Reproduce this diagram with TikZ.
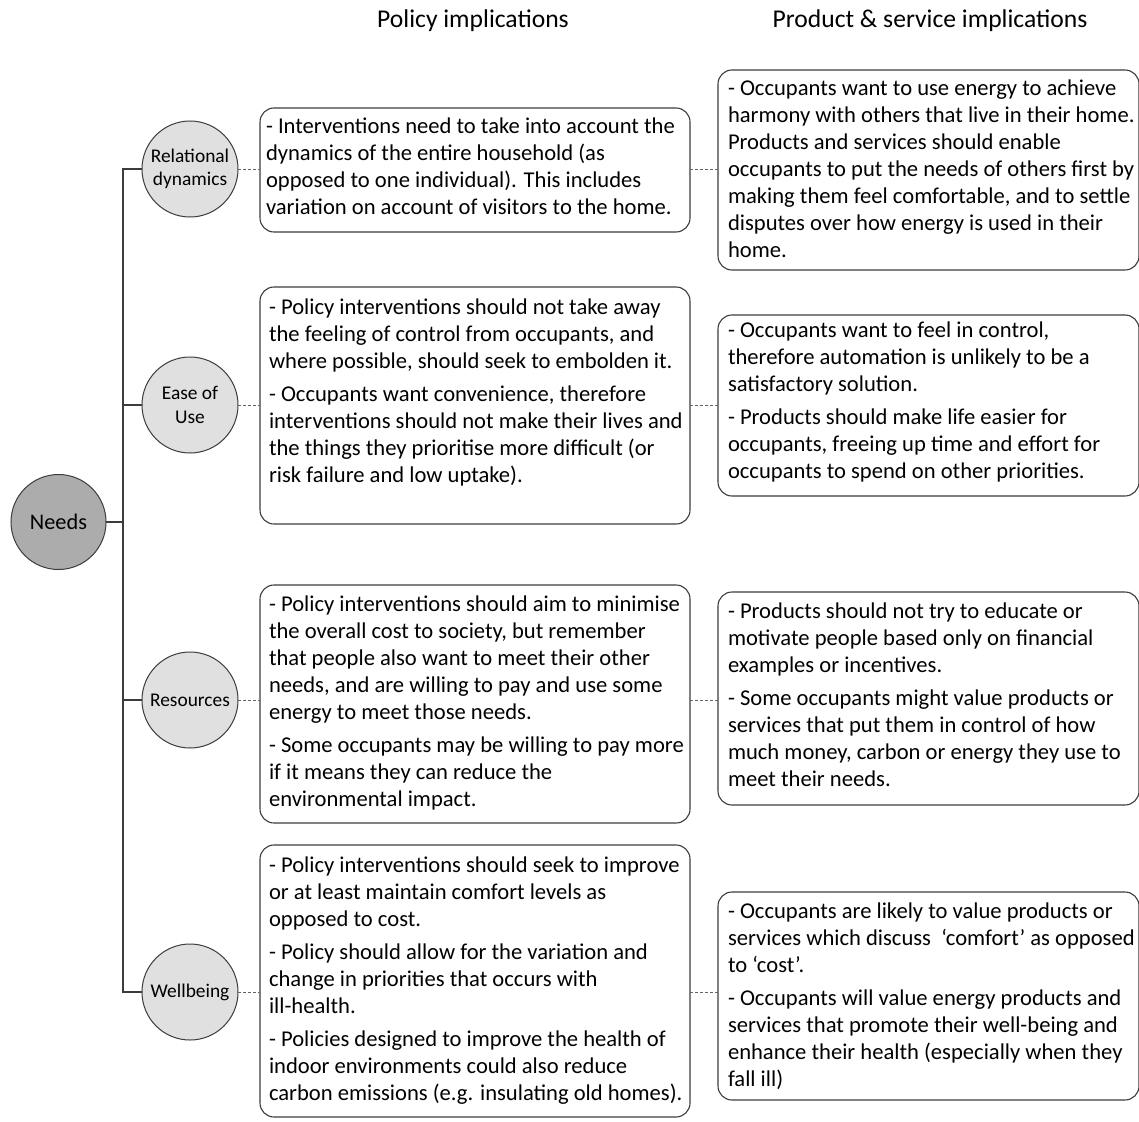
\documentclass[tikz,border=0pt]{standalone}
\usepackage{fontspec}
\setmainfont{Carlito}
\definecolor{linegray}{RGB}{60,60,60}
\definecolor{dotgray}{RGB}{100,100,100}
\definecolor{rootfill}{RGB}{172,172,172}
\definecolor{leaffill}{RGB}{224,224,224}
\begin{document}
\begin{tikzpicture}[x=1pt,y=-1pt,
  every node/.style={inner sep=0pt, outer sep=0pt},
  rootnode/.style={circle, draw=linegray, line width=1pt, fill=rootfill, minimum size=95pt,
    font=\fontsize{22.3}{24}\selectfont},
  leafnode/.style={circle, draw=linegray, line width=1pt, fill=leaffill, minimum size=96pt,
    align=center, font=\fontsize{19.4}{23.5}\selectfont},
  boxnode/.style={draw=linegray, line width=1.1pt, rounded corners=14pt, anchor=north west},
  boxtext/.style={anchor=north west, align=left, font=\fontsize{22.6}{27}\selectfont},
  header/.style={font=\fontsize{25.6}{27}\selectfont},
  tree/.style={draw=linegray, line width=1.1pt},
  dotline/.style={draw=dotgray, line width=0.9pt, dash pattern=on 3pt off 2pt}
]
\useasboundingbox (0,0) rectangle (1139,1121);

% column headings
\node[header] (hpol) at (473,21) {Policy implications};
\node[header] (hprod) at (930,21) {Product \& service implications};

% root and the four need categories
\node[rootnode] (needs) at (58.5,522) {Needs};
\node[leafnode] (rel)  at (190,169) {Relational\\dynamics};
\node[leafnode] (ease) at (190,405) {Ease of\\Use};
\node[leafnode] (res)  at (190,700) {Resources};
\node[leafnode] (wel)  at (190,992) {Wellbeing};

% policy boxes
\node[boxnode, minimum width=430pt, minimum height=124pt] (p1) at (260,108) {};
\node[boxnode, minimum width=430pt, minimum height=237pt] (p2) at (260,287) {};
\node[boxnode, minimum width=430pt, minimum height=238pt] (p3) at (260,585) {};
\node[boxnode, minimum width=430pt, minimum height=272pt] (p4) at (260,845) {};

% product & service boxes
\node[boxnode, minimum width=421pt, minimum height=200pt] (q1) at (718,70) {};
\node[boxnode, minimum width=421pt, minimum height=181pt] (q2) at (718,315) {};
\node[boxnode, minimum width=421pt, minimum height=213pt] (q3) at (718,592) {};
\node[boxnode, minimum width=421pt, minimum height=208pt] (q4) at (718,892) {};

% box texts
\node[boxtext] (p1t) at ([shift={(6,7)}]p1.north west) {\strut- Interventions need to take into account the\\
dynamics of the entire household (as\\
opposed to one individual). This includes\\
variation on account of visitors to the home.};

\node[boxtext] (p2t) at ([shift={(9,9)}]p2.north west) {\strut- Policy interventions should not take away\\
the feeling of control from occupants, and\\
where possible, should seek to embolden it.\\[6pt]
- Occupants want convenience, therefore\\
interventions should not make their lives and\\
the things they prioritise more difficult (or\\
risk failure and low uptake).};

\node[boxtext] (p3t) at ([shift={(9,8)}]p3.north west) {\strut- Policy interventions should aim to minimise\\
the overall cost to society, but remember\\
that people also want to meet their other\\
needs, and are willing to pay and use some\\
energy to meet those needs.\\[6pt]
- Some occupants may be willing to pay more\\
if it means they can reduce the\\
environmental impact.};

\node[boxtext] (p4t) at ([shift={(9,9)}]p4.north west) {\strut- Policy interventions should seek to improve\\
or at least maintain comfort levels as\\
opposed to cost.\\[6pt]
- Policy should allow for the variation and\\
change in priorities that occurs with\\
ill-health.\\[6pt]
- Policies designed to improve the health of\\
indoor environments could also reduce\\
carbon emissions (e.g. insulating old homes).};

\node[boxtext] (q1t) at ([shift={(10,7)}]q1.north west) {\strut- Occupants want to use energy to achieve\\
harmony with others that live in their home.\\
Products and services should enable\\
occupants to put the needs of others first by\\
making them feel comfortable, and to settle\\
disputes over how energy is used in their\\
home.};

\node[boxtext] (q2t) at ([shift={(10,4)}]q2.north west) {\strut- Occupants want to feel in control,\\
therefore automation is unlikely to be a\\
satisfactory solution.\\[6pt]
- Products should make life easier for\\
occupants, freeing up time and effort for\\
occupants to spend on other priorities.};

\node[boxtext] (q3t) at ([shift={(10,8)}]q3.north west) {\strut- Products should not try to educate or\\
motivate people based only on financial\\
examples or incentives.\\[6pt]
- Some occupants might value products or\\
services that put them in control of how\\
much money, carbon or energy they use to\\
meet their needs.};

\node[boxtext] (q4t) at ([shift={(10,8)}]q4.north west) {\strut- Occupants are likely to value products or\\
services which discuss \ ‘comfort’ as opposed\\
to ‘cost’.\\[6pt]
- Occupants will value energy products and\\
services that promote their well-being and\\
enhance their health (especially when they\\
fall ill)};

% tree connectors
\coordinate (ttop) at (123,169);
\coordinate (tbot) at (123,992);
\draw[tree] (rel.west) -- (ttop) -- (tbot) -- (wel.west);
\draw[tree] (needs.east) -- (needs.east -| ttop);
\draw[tree] (ease.west) -- (ease.west -| ttop);
\draw[tree] (res.west) -- (res.west -| ttop);

% dotted links: need -> policy -> product
\draw[dotline] (rel.east)  -- (rel.east -| p1.west);
\draw[dotline] (ease.east) -- (ease.east -| p2.west);
\draw[dotline] (res.east)  -- (res.east -| p3.west);
\draw[dotline] (wel.east)  -- (wel.east -| p4.west);
\draw[dotline] (p1.east |- rel.east)  -- (q1.west |- rel.east);
\draw[dotline] (p2.east |- ease.east) -- (q2.west |- ease.east);
\draw[dotline] (p3.east |- res.east)  -- (q3.west |- res.east);
\draw[dotline] (p4.east |- wel.east)  -- (q4.west |- wel.east);
\end{tikzpicture}
\end{document}
